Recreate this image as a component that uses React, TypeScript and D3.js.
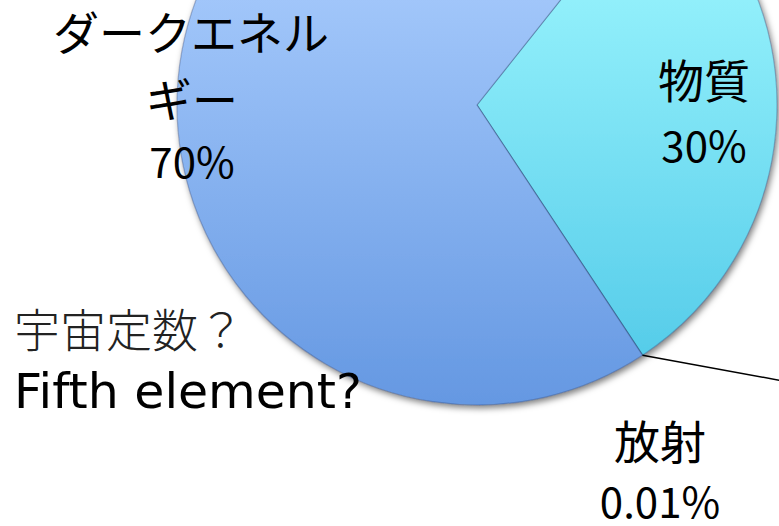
import { useMemo } from 'react';
import * as d3 from 'd3';

// Slices in clockwise order from the start angle
const LABELS = ['物質', '放射', 'ダークエネルギー'];
const VALUES = [30, 0.01, 70];
const PERCENT_TEXT = ['30%', '0.01%', '70%'];

const W = 779;
const H = 526;
const CX = 477;
const CY = 105;
const R = 300;
const START_DEG = 38.5;

const JP = '"Noto Sans CJK JP", "Noto Sans", sans-serif';

type Slice = d3.PieArcDatum<number>;

export default function App() {
  const arcs = useMemo(() => {
    const pie = d3.pie<number>()
      .sort(null)
      .value((d) => d)
      .startAngle((START_DEG * Math.PI) / 180)
      .endAngle((START_DEG * Math.PI) / 180 + Math.PI * 2);
    return pie(VALUES);
  }, []);

  const arc = d3.arc<Slice>().innerRadius(0).outerRadius(R);

  // Leader line for the tiny radiation slice
  const rad = arcs[1];
  const a = (rad.startAngle + rad.endAngle) / 2;
  const lx = Math.sin(a) * R;
  const ly = -Math.cos(a) * R;

  const fills = ['url(#gMatter)', '#7fb0f0', 'url(#gDark)'];

  return (
    <svg width={W} height={H} style={{ position: 'fixed', left: 0, top: 0, background: '#fff' }}>
      <defs>
        <linearGradient id="gDark" gradientUnits="userSpaceOnUse" x1={0} x2={0} y1={CY - R} y2={CY + R}>
          <stop offset="0%" stopColor="#aed0ff" />
          <stop offset="100%" stopColor="#558cdc" />
        </linearGradient>
        <linearGradient id="gMatter" gradientUnits="userSpaceOnUse" x1={0} x2={0} y1={CY - R} y2={CY + R}>
          <stop offset="0%" stopColor="#a0f8ff" />
          <stop offset="100%" stopColor="#3cbde2" />
        </linearGradient>
        <filter id="shadow" x="-20%" y="-20%" width="140%" height="140%">
          <feDropShadow dx="2" dy="3" stdDeviation="3" floodColor="#000" floodOpacity="0.5" />
        </filter>
      </defs>

      <g transform={`translate(${CX},${CY})`} filter="url(#shadow)">
        {arcs.map((d, i) => (
          <path
            key={LABELS[i]}
            d={arc(d) ?? ''}
            fill={fills[i]}
            stroke="rgba(30,50,100,0.3)"
            strokeWidth={1.2}
          />
        ))}
      </g>

      <line
        x1={CX + lx}
        y1={CY + ly}
        x2={800}
        y2={384}
        stroke="#000"
        strokeWidth={1.5}
      />

      <g fontFamily={JP} fill="#000" textAnchor="middle">
        <text x={191} y={50} fontSize={46}>ダークエネル</text>
        <text x={192} y={117} fontSize={46}>ギー</text>
        <text x={192} y={178} fontSize={42}>{PERCENT_TEXT[2]}</text>

        <text x={704} y={98} fontSize={46}>{LABELS[0]}</text>
        <text x={704} y={162} fontSize={42}>{PERCENT_TEXT[0]}</text>

        <text x={660} y={459} fontSize={46}>{LABELS[1]}</text>
        <text x={660} y={518} fontSize={42}>{PERCENT_TEXT[1]}</text>
      </g>

      <text x={14} y={347} fontFamily={JP} fontSize={46} fontWeight={300} fill="#222">
        宇宙定数？
      </text>
      <text
        x={14}
        y={408}
        fontFamily='"Comic Sans MS", "DejaVu Sans", sans-serif'
        fontSize={48}
        textLength={348}
        lengthAdjust="spacingAndGlyphs"
        fill="#000"
      >
        Fifth element?
      </text>
    </svg>
  );
}
